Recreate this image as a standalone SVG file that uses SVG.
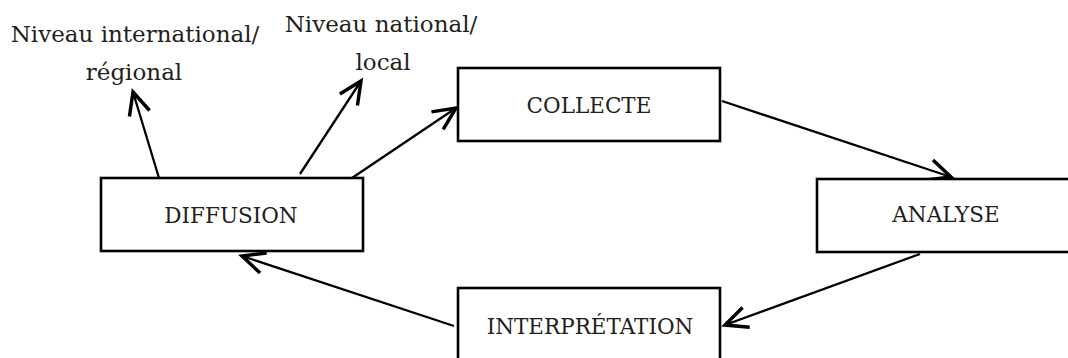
<svg xmlns="http://www.w3.org/2000/svg" width="1068" height="358" viewBox="0 0 1068 358">
<defs>
<style>
.box{fill:#fff;stroke:#000;stroke-width:2.6}
.lbl{font-family:"DejaVu Serif","Liberation Serif",serif;font-size:21.5px;fill:#231f20;text-anchor:middle}
.txt{font-family:"DejaVu Serif","Liberation Serif",serif;font-size:23px;fill:#231f20;text-anchor:middle}
.con{fill:none;stroke:#000;stroke-width:2.3;marker-end:url(#ah)}
</style>
<marker id="ah" markerUnits="userSpaceOnUse" markerWidth="30" markerHeight="30" refX="0" refY="0" viewBox="-16 -10 20 20" orient="auto" overflow="visible">
<path d="M-15,-7 L0,0 L-15,7" fill="none" stroke="#000" stroke-width="2.3"/>
</marker>
</defs>
<rect width="1068" height="358" fill="#fff"/>
<g id="connectors">
<line class="con" x1="159" y1="178" x2="133" y2="92"/>
<line class="con" x1="300" y1="174" x2="361" y2="81"/>
<line class="con" x1="352" y1="178" x2="456" y2="108"/>
<line class="con" x1="722" y1="101" x2="951" y2="177"/>
<line class="con" x1="920" y1="254" x2="725" y2="325"/>
<line class="con" x1="454" y1="326" x2="242" y2="256"/>
</g>
<g id="collecte">
<rect class="box" x="458" y="68" width="262" height="73"/>
<text class="lbl" x="589" y="113">COLLECTE</text>
</g>
<g id="analyse">
<rect class="box" x="817" y="179" width="262" height="73"/>
<text class="lbl" x="946" y="222">ANALYSE</text>
</g>
<g id="interpretation">
<rect class="box" x="458" y="288" width="262" height="73"/>
<text class="lbl" x="590" y="334">INTERPRÉTATION</text>
</g>
<g id="diffusion">
<rect class="box" x="101" y="178" width="262" height="73"/>
<text class="lbl" x="231" y="223">DIFFUSION</text>
</g>
<g id="label-international">
<text class="txt" x="135" y="42">Niveau international/</text>
<text class="txt" x="134" y="80">régional</text>
</g>
<g id="label-national">
<text class="txt" x="381" y="32">Niveau national/</text>
<text class="txt" x="383" y="70">local</text>
</g>
</svg>
